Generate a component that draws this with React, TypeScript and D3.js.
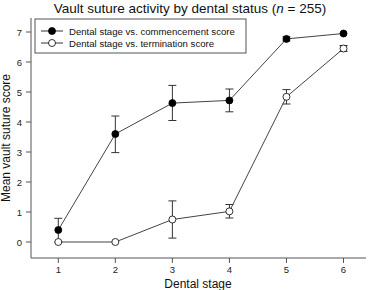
import React from "react";
import * as d3 from "d3";

const stages = [1, 2, 3, 4, 5, 6];
const commenceMean = [0.4, 3.6, 4.63, 4.72, 6.77, 6.95];
const commenceLo = [0.0, 2.98, 4.05, 4.34, 6.7, 6.95];
const commenceHi = [0.79, 4.2, 5.22, 5.1, 6.84, 6.95];
const termMean = [0.0, 0.0, 0.75, 1.02, 4.84, 6.45];
const termLo = [0.0, 0.0, 0.13, 0.8, 4.6, 6.35];
const termHi = [0.0, 0.0, 1.37, 1.25, 5.08, 6.55];
const yTicks = [0, 1, 2, 3, 4, 5, 6, 7];
const legendLabels = [
  "Dental stage vs. commencement score",
  "Dental stage vs. termination score",
];

export default function App() {
  const W = 373, H = 290;
  const x = d3.scaleLinear().domain([1, 6]).range([58.3, 343.5]);
  const y = d3.scaleLinear().domain([0, 7]).range([242, 32]);
  const axisLeft = 31, axisBottom = 258;
  const line = d3
    .line<number>()
    .x((_, i) => x(stages[i]))
    .y((d) => y(d));
  const font = "Liberation Sans, Arial, sans-serif";
  const series = [
    { mean: commenceMean, lo: commenceLo, hi: commenceHi, fill: "#000" },
    { mean: termMean, lo: termLo, hi: termHi, fill: "#fff" },
  ];
  return (
    <svg width={W} height={H} style={{ position: "absolute", left: 0, top: 0 }} fontFamily={font}>
      <rect width={W} height={H} fill="#fff" />
      <text x={190} y={13} textAnchor="middle" fontSize={13.5} fill="#111">
        Vault suture activity by dental status (<tspan fontStyle="italic">n</tspan> = 255)
      </text>
      {/* axes */}
      <line x1={axisLeft} x2={axisLeft} y1={18} y2={axisBottom} stroke="#555" strokeWidth={1} />
      <line x1={axisLeft} x2={366} y1={axisBottom} y2={axisBottom} stroke="#555" strokeWidth={1} />
      {yTicks.map((t) => (
        <g key={"y" + t}>
          <line x1={axisLeft - 5} x2={axisLeft} y1={y(t)} y2={y(t)} stroke="#555" />
          <text x={axisLeft - 9} y={y(t) + 3.5} textAnchor="end" fontSize={9.5} fill="#222">
            {t}
          </text>
        </g>
      ))}
      {stages.map((s) => (
        <g key={"x" + s}>
          <line x1={x(s)} x2={x(s)} y1={axisBottom} y2={axisBottom + 5} stroke="#555" />
          <text x={x(s)} y={axisBottom + 15} textAnchor="middle" fontSize={9.5} fill="#222">
            {s}
          </text>
        </g>
      ))}
      <text x={198} y={288} textAnchor="middle" fontSize={12} fill="#111">
        Dental stage
      </text>
      <text
        transform={`translate(10,${138}) rotate(-90)`}
        textAnchor="middle"
        fontSize={12}
        fill="#111"
      >
        Mean vault suture score
      </text>
      {/* series */}
      {series.map((s, si) => (
        <g key={"s" + si}>
          <path d={line(s.mean) || ""} fill="none" stroke="#444" strokeWidth={1} />
          {stages.map((st, i) =>
            s.hi[i] - s.lo[i] > 0.001 ? (
              <g key={"e" + i} stroke="#333" strokeWidth={1}>
                <line x1={x(st)} x2={x(st)} y1={y(s.lo[i])} y2={y(s.hi[i])} />
                <line x1={x(st) - 4} x2={x(st) + 4} y1={y(s.lo[i])} y2={y(s.lo[i])} />
                <line x1={x(st) - 4} x2={x(st) + 4} y1={y(s.hi[i])} y2={y(s.hi[i])} />
              </g>
            ) : null
          )}
          {stages.map((st, i) => (
            <circle
              key={"c" + i}
              cx={x(st)}
              cy={y(s.mean[i])}
              r={3.5}
              fill={s.fill}
              stroke="#000"
              strokeWidth={0.8}
            />
          ))}
        </g>
      ))}
      {/* legend */}
      <rect x={35} y={19} width={211} height={34} fill="#fff" stroke="#555" strokeWidth={1} />
      {legendLabels.map((l, i) => (
        <g key={"l" + i}>
          <line x1={41} x2={63} y1={31 + i * 12} y2={31 + i * 12} stroke="#333" />
          <circle cx={52} cy={31 + i * 12} r={3.5} fill={series[i].fill} stroke="#000" strokeWidth={0.8} />
          <text x={69} y={34.5 + i * 12} fontSize={9.6} fill="#111">
            {l}
          </text>
        </g>
      ))}
    </svg>
  );
}
